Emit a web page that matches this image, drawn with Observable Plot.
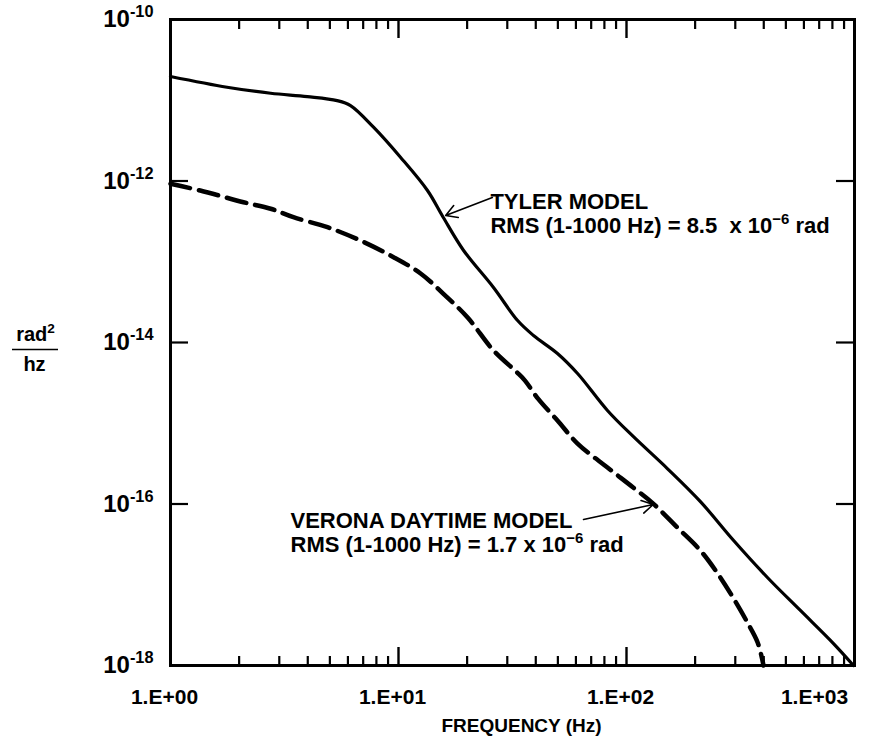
<!DOCTYPE html>
<html><head><meta charset="utf-8">
<script src="https://cdn.jsdelivr.net/npm/d3@7"></script>
<script src="https://cdn.jsdelivr.net/npm/@observablehq/plot@0.6"></script>
<style>body{margin:0;background:#fff} svg{display:block}</style>
</head><body><div id="chart"></div>
<script>
// Tyler model (solid)
const tylerFreq = [1, 1.77, 2.75, 3.98, 5.38, 6.16, 7.77, 10.2, 13.4, 15.7, 19.3, 26.1, 33.3, 39.1, 49.8, 61.0, 82.5, 107, 151, 211, 295, 415, 579, 809, 990];
const tylerPsd = [1.97e-11, 1.45e-11, 1.22e-11, 1.11e-11, 9.9e-12, 8.6e-12, 4.64e-12, 1.97e-12, 7.63e-13, 3.56e-13, 1.38e-13, 4.8e-14, 1.87e-14, 1.22e-14, 7.31e-15, 4.13e-15, 1.44e-15, 6.86e-16, 2.75e-16, 1.07e-16, 3.53e-17, 1.23e-17, 4.8e-18, 1.87e-18, 1.0e-18];
// Verona daytime model (dashed)
const veronaFreq = [1, 1.35, 2.09, 2.75, 3.46, 4.88, 6.81, 9.51, 12.5, 15.7, 20.1, 26.1, 33.0, 35.8, 41.0, 49.8, 61.0, 82.5, 107, 131, 167, 211, 251, 295, 339, 376, 399];
const veronaPsd = [9.23e-13, 7.62e-13, 5.46e-13, 4.53e-13, 3.56e-13, 2.68e-13, 1.83e-13, 1.14e-13, 7.15e-14, 4.04e-14, 2.04e-14, 7.96e-15, 4.3e-15, 3.4e-15, 2.0e-15, 1.08e-15, 5.61e-16, 2.83e-16, 1.60e-16, 1.01e-16, 5.12e-17, 2.65e-17, 1.38e-17, 6.76e-18, 3.41e-18, 1.93e-18, 1.0e-18];

const xTickValues = [1, 10, 100, 1000];
const xTickLabels = ["1.E+00", "1.E+01", "1.E+02", "1.E+03"];
const yTickValues = [1e-10, 1e-12, 1e-14, 1e-16, 1e-18];
const yTickLabels = ["10^{-10}", "10^{-12}", "10^{-14}", "10^{-16}", "10^{-18}"];
const xMinorTicks = [2,3,4,5,6,7,8,9,20,30,40,50,60,70,80,90,200,300,400,500,600,700,800,900];
const xInnerMajorTicks = [10, 100];
const yInnerTicks = [1e-12, 1e-14, 1e-16];

const annotationLines = [
  {text: "TYLER MODEL", f: 25.3, p: 5.5e-13},
  {text: "RMS (1-1000 Hz) = 8.5  x 10^{−6} rad", f: 25.3, p: 2.75e-13},
  {text: "VERONA DAYTIME MODEL", f: 3.36, p: 6.1e-17},
  {text: "RMS (1-1000 Hz) = 1.7 x 10^{−6} rad", f: 3.36, p: 3.1e-17}
];
const arrows = [
  {f1: 25.8, p1: 6.25e-13, f2: 16.1, p2: 3.74e-13},
  {f1: 64.8, p1: 6.43e-17, f2: 131, p2: 9.86e-17}
];
const xTitle = "FREQUENCY (Hz)";
const yUnitTop = "rad^{2}";
const yUnitBottom = "hz";

const tyler = tylerFreq.map((f, i) => ({f, p: tylerPsd[i]}));
const verona = veronaFreq.map((f, i) => ({f, p: veronaPsd[i]}));

const W = 891, H = 756, mL = 170, mR = 37, mT = 19, mB = 91;
const fw = W - mL - mR, fh = H - mT - mB;
const xLabelFmt = d => xTickLabels[xTickValues.indexOf(d)];
const noLabel = () => "";

const chart = Plot.plot({
  width: W, height: H,
  marginLeft: mL, marginRight: mR, marginTop: mT, marginBottom: mB,
  x: {type: "log", domain: [1, 1000]},
  y: {type: "log", domain: [1e-18, 1e-10]},
  style: {fontFamily: '"Liberation Sans", Arial, sans-serif', fontWeight: "bold", background: "white", color: "black", whiteSpace: "pre"},
  marks: [
    Plot.axisX(xTickValues.slice(0, 3), {tickSize: 0, tickPadding: 24, label: null, fontSize: 21, dx: -6, tickFormat: xLabelFmt}),
    Plot.axisX(xTickValues.slice(3), {tickSize: 0, tickPadding: 24, label: null, fontSize: 21, dx: -40, tickFormat: xLabelFmt}),
    Plot.axisY(yTickValues, {tickSize: 0, tickPadding: 17, label: null, fontSize: 24,
      tickFormat: d => yTickLabels[yTickValues.indexOf(d)]}),
    Plot.line(tyler, {x: "f", y: "p", stroke: "black", strokeWidth: 3.2, curve: "catmull-rom"}),
    Plot.line(verona, {x: "f", y: "p", stroke: "black", strokeWidth: 4.5, strokeDasharray: "20,9", curve: "catmull-rom"}),
    Plot.arrow(arrows, {x1: "f1", y1: "p1", x2: "f2", y2: "p2", stroke: "black", strokeWidth: 1.6, headLength: 12}),
    Plot.text(annotationLines, {x: "f", y: "p", text: "text", textAnchor: "start", lineAnchor: "middle", fontSize: 22}),
    Plot.text([xTitle], {text: d => d, frameAnchor: "bottom", textAnchor: "middle", lineAnchor: "top", dy: 53, dx: 9, fontSize: 19}),
    Plot.text([1e-14], {y: d => d, text: () => yUnitTop, frameAnchor: "left", textAnchor: "middle", dx: -135, dy: -8, lineAnchor: "middle", fontSize: 20}),
    Plot.text([1e-14], {y: d => d, text: () => yUnitBottom, frameAnchor: "left", textAnchor: "middle", dx: -136, dy: 22, lineAnchor: "middle", fontSize: 20}),
    Plot.ruleY([1e-14], {y: d => d, dy: 7, insetLeft: -158, insetRight: fw + mL - 58, stroke: "black", strokeWidth: 1.6}),
    Plot.frame({stroke: "black", strokeWidth: 3}),
    // inward ticks on bottom and top, drawn as axis ticks shifted into the frame
    Plot.axisX(xMinorTicks, {anchor: "bottom", tickSize: 9, dy: -9, strokeWidth: 2.2, stroke: "black", tickFormat: noLabel, label: null}),
    Plot.axisX(xInnerMajorTicks, {anchor: "bottom", tickSize: 18, dy: -18, strokeWidth: 2.4, stroke: "black", tickFormat: noLabel, label: null}),
    Plot.axisX(xMinorTicks, {anchor: "top", tickSize: 9, dy: 9, strokeWidth: 2.2, stroke: "black", tickFormat: noLabel, label: null}),
    Plot.axisX(xInnerMajorTicks, {anchor: "top", tickSize: 18, dy: 18, strokeWidth: 2.4, stroke: "black", tickFormat: noLabel, label: null}),
    // inward ticks on left and right
    Plot.ruleY(yInnerTicks, {y: d => d, insetRight: fw - 18, stroke: "black", strokeWidth: 2.2}),
    Plot.ruleY(yInnerTicks, {y: d => d, insetLeft: fw - 18, stroke: "black", strokeWidth: 2.2})
  ]
});

function supify(svg) {
  const NS = "http://www.w3.org/2000/svg";
  svg.querySelectorAll("text, tspan").forEach(el => {
    if (el.children.length) return;
    const s = el.textContent;
    if (!s.includes("^{")) return;
    el.textContent = "";
    let up = false;
    for (const part of s.split(/(\^\{[^}]*\})/)) {
      if (!part) continue;
      const t = document.createElementNS(NS, "tspan");
      if (part.startsWith("^{")) {
        t.textContent = part.slice(2, -1);
        t.setAttribute("font-size", "68%");
        t.setAttribute("dy", "-0.6em");
        up = true;
      } else {
        t.textContent = part;
        if (up) { t.setAttribute("dy", "0.408em"); up = false; }
      }
      el.appendChild(t);
    }
  });
}
supify(chart);
document.getElementById("chart").appendChild(chart);
</script>
</body></html>
